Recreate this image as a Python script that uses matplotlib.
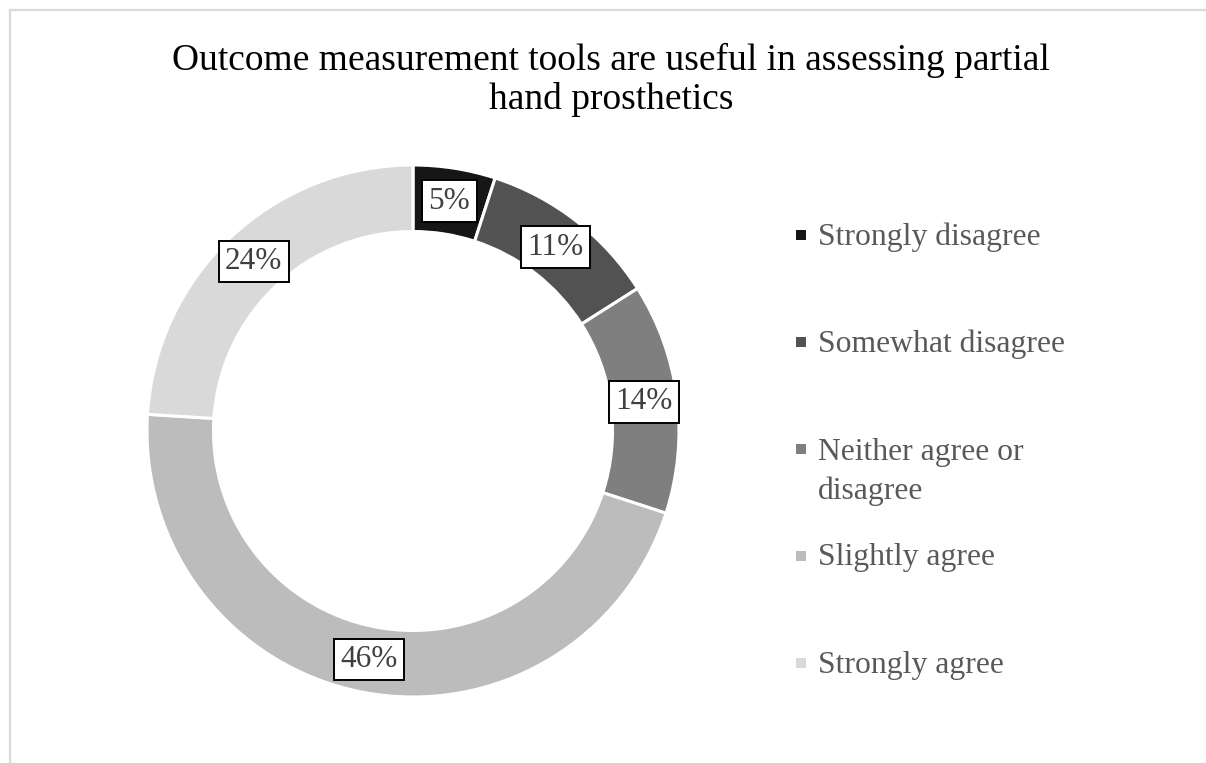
import matplotlib.pyplot as plt
from matplotlib.patches import Rectangle
import numpy as np

plt.rcParams['font.family'] = ['Liberation Serif', 'DejaVu Serif']

# survey responses
categories = ['Strongly disagree', 'Somewhat disagree', 'Neither agree or\ndisagree',
              'Slightly agree', 'Strongly agree']
shares = [5, 11, 14, 46, 24]
colors = ['#161616', '#525252', '#7f7f7f', '#bcbcbc', '#d9d9d9']
title = 'Outcome measurement tools are useful in assessing partial\nhand prosthetics'

W, H = 1206, 763
fig = plt.figure(figsize=(W / 100, H / 100), dpi=100)

# light frame around the chart area
fig.patches.append(Rectangle((9.5 / W, -0.05), 1.2, 1.05 - 9.5 / H, transform=fig.transFigure,
                             fill=False, edgecolor='#d9d9d9', linewidth=1.6))

cx, cy, r = 413, 431, 266
ax = fig.add_axes([(cx - r) / W, (H - cy - r) / H, 2 * r / W, 2 * r / H])
wedges, _ = ax.pie(shares, colors=colors, startangle=90, counterclock=False, radius=1,
                   wedgeprops=dict(width=0.25, edgecolor='white', linewidth=2.2))
ax.set_xlim(-1, 1)
ax.set_ylim(-1, 1)
ax.set_aspect('equal')
ax.axis('off')

# percentage labels in boxes on the middle of the ring
total = sum(shares)
start = 0
for v in shares:
    mid = start + v / 2
    ang = np.deg2rad(90 - 360 * mid / total)
    ax.text(0.875 * np.cos(ang), 0.875 * np.sin(ang), f'{v}%', ha='center', va='center',
            fontsize=22.5, color='#404040',
            bbox=dict(boxstyle='square,pad=0.2', facecolor='white', edgecolor='black', linewidth=1.4))
    start += v

fig.text(611 / W, 1 - 80 / H, title, ha='center', va='center', fontsize=27,
         color='black', linespacing=1.16)

# legend drawn as a column on the right
y0, step, line_h = 237, 107, 42
for i, (lab, col) in enumerate(zip(categories, colors)):
    y = y0 + i * step
    fig.patches.append(Rectangle((796 / W, 1 - (y + 3) / H), 10 / W, 10 / H,
                                 transform=fig.transFigure, facecolor=col, edgecolor='none'))
    n = lab.count('\n')
    fig.text(818 / W, 1 - (y + n * line_h / 2) / H, lab, ha='left', va='center',
             fontsize=22.8, color='#595959', linespacing=1.4)

fig.savefig('out.png', dpi=100)
